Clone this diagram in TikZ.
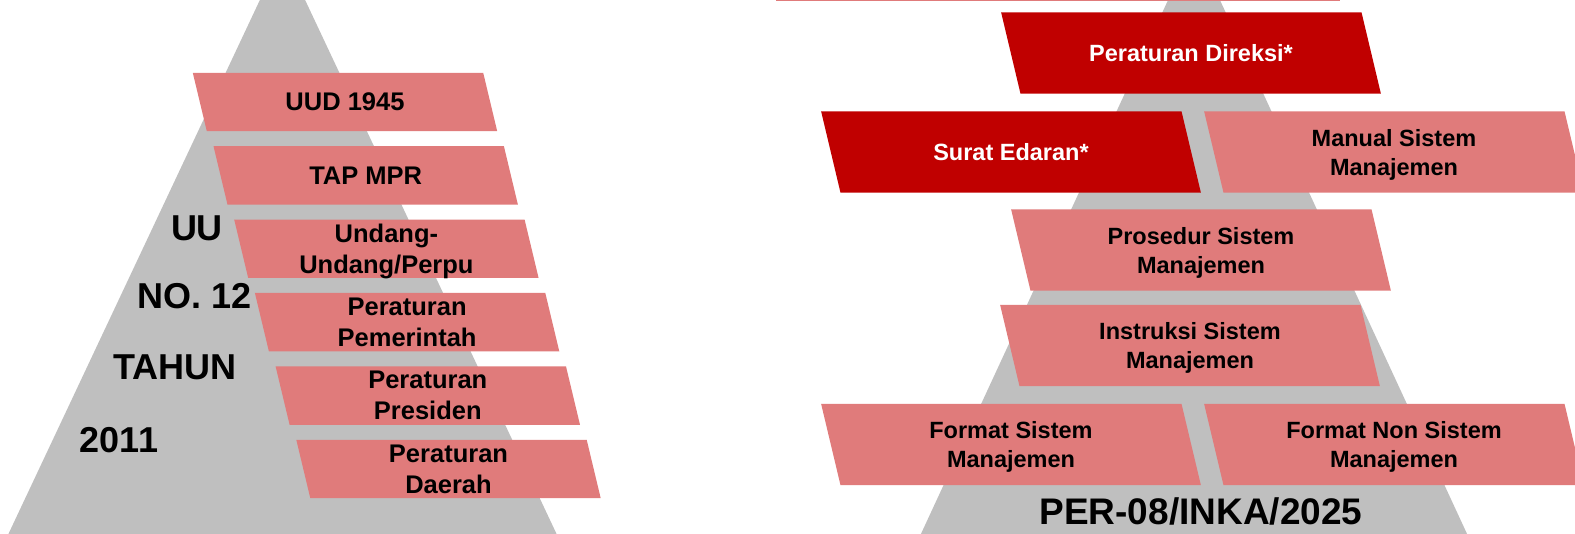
\documentclass[tikz,border=0pt]{standalone}
\usepackage{fontspec}
\setmainfont{Liberation Sans}
\usetikzlibrary{backgrounds}
\usetikzlibrary{positioning}
\definecolor{barpink}{HTML}{E07B7B}
\definecolor{barred}{HTML}{C00000}
\definecolor{pyrgrey}{HTML}{BFBFBF}
\begin{document}
\begin{tikzpicture}[x=1pt,y=-1pt,every node/.style={inner sep=0pt},
  lbar/.style={minimum width=290pt,minimum height=58pt,align=center,text depth=0pt,font=\fontsize{25.5}{31}\selectfont\bfseries},
  rbar/.style={minimum width=360pt,minimum height=81pt,align=center,text depth=0pt,font=\fontsize{23.5}{29}\selectfont\bfseries},
  big/.style={font=\fontsize{36}{40}\selectfont\bfseries}]
  \useasboundingbox (0,0) rectangle (1575,534);

  \node[lbar] (uud) at (345,102) {UUD 1945};
  \node[lbar,below=15pt of uud,xshift=20.7pt] (tap) {TAP MPR};
  \node[lbar,below=15pt of tap,xshift=20.7pt] (uu) {Undang-\\Undang/Perpu};
  \node[lbar,below=15pt of uu,xshift=20.7pt] (pp) {Peraturan\\Pemerintah};
  \node[lbar,below=15pt of pp,xshift=20.7pt] (perpres) {Peraturan\\Presiden};
  \node[lbar,below=15pt of perpres,xshift=20.7pt] (perda) {Peraturan\\Daerah};

  \node[big] (t1) at (197,228) {UU};
  \node[big] (t2) at (195,296) {NO. 12};
  \node[big] (t3) at (175,367) {TAHUN};
  \node[big] (t4) at (119,440) {2011};

  \node[rbar,text=white] (direksi) at (1191,53) {Peraturan Direksi*};
  \node[rbar,text=white] (edaran) at (1011,152) {Surat Edaran*};
  \node[rbar] (manual) at (1394,152) {Manual Sistem\\Manajemen};
  \node[rbar] (prosedur) at (1201,250) {Prosedur Sistem\\Manajemen};
  \node[rbar] (instruksi) at (1190,345.5) {Instruksi Sistem\\Manajemen};
  \node[rbar] (fsm) at (1011,444.5) {Format Sistem\\Manajemen};
  \node[rbar] (fnon) at (1394,444.5) {Format Non Sistem\\Manajemen};

  \node[big,font=\fontsize{37}{40}\selectfont\bfseries] (per) at (1201,511) {PER-08/INKA/2025};

  \begin{scope}[on background layer]
    \fill[pyrgrey](282.5,-48)--(7,537)--(558,537)--cycle;
    \fill[pyrgrey](1194,-56)--(920,536)--(1468,536)--cycle;
    \fill[barpink](776,-2) rectangle (1340,1.5);
    \foreach \n/\s/\c in {uud/7/barpink,tap/7/barpink,uu/7/barpink,pp/7/barpink,perpres/7/barpink,perda/7/barpink,
      direksi/9.7/barred,edaran/9.7/barred,manual/9.7/barpink,prosedur/9.7/barpink,instruksi/9.7/barpink,fsm/9.7/barpink,fnon/9.7/barpink}
      \fill[\c]([xshift=-\s pt]\n.north west)--([xshift=-\s pt]\n.north east)--([xshift=\s pt]\n.south east)--([xshift=\s pt]\n.south west)--cycle;
  \end{scope}
\end{tikzpicture}
\end{document}
